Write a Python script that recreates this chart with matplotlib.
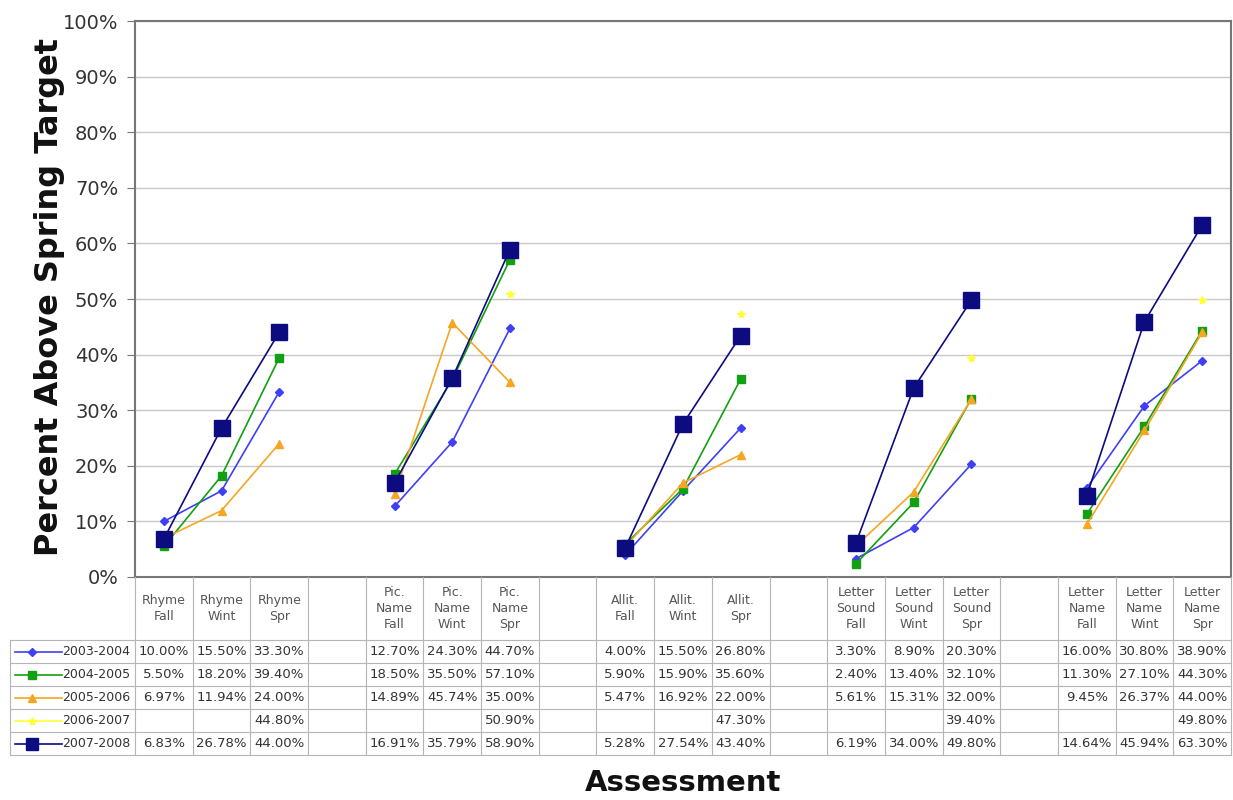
import matplotlib
matplotlib.use('Agg')
import matplotlib.pyplot as plt
import numpy as np

nan = np.nan

# categories (blank columns separate the assessment groups)
categories = ['Rhyme\nFall', 'Rhyme\nWint', 'Rhyme\nSpr', '',
              'Pic.\nName\nFall', 'Pic.\nName\nWint', 'Pic.\nName\nSpr', '',
              'Allit.\nFall', 'Allit.\nWint', 'Allit.\nSpr', '',
              'Letter\nSound\nFall', 'Letter\nSound\nWint', 'Letter\nSound\nSpr', '',
              'Letter\nName\nFall', 'Letter\nName\nWint', 'Letter\nName\nSpr']

years = ['2003-2004', '2004-2005', '2005-2006', '2006-2007', '2007-2008']

y2003 = [10.00, 15.50, 33.30, nan, 12.70, 24.30, 44.70, nan, 4.00, 15.50, 26.80, nan,
         3.30, 8.90, 20.30, nan, 16.00, 30.80, 38.90]
y2004 = [5.50, 18.20, 39.40, nan, 18.50, 35.50, 57.10, nan, 5.90, 15.90, 35.60, nan,
         2.40, 13.40, 32.10, nan, 11.30, 27.10, 44.30]
y2005 = [6.97, 11.94, 24.00, nan, 14.89, 45.74, 35.00, nan, 5.47, 16.92, 22.00, nan,
         5.61, 15.31, 32.00, nan, 9.45, 26.37, 44.00]
y2006 = [nan, nan, 44.80, nan, nan, nan, 50.90, nan, nan, nan, 47.30, nan,
         nan, nan, 39.40, nan, nan, nan, 49.80]
y2007 = [6.83, 26.78, 44.00, nan, 16.91, 35.79, 58.90, nan, 5.28, 27.54, 43.40, nan,
         6.19, 34.00, 49.80, nan, 14.64, 45.94, 63.30]

series = [y2003, y2004, y2005, y2006, y2007]

# styles per series
colors = ['#3f3ff5', '#12a012', '#f5a623', '#ffff33', '#0c0c80']
markers = ['D', 's', '^', '*', 's']
msizes = [4.5, 6, 6, 6, 11]

fig = plt.figure(figsize=(12.33, 8), dpi=100)

# main plot area
ax = fig.add_axes([135 / 1233, 223 / 800, 1096 / 1233, 556 / 800])
x = np.arange(len(categories))
for vals, c, m, ms in zip(series, colors, markers, msizes):
    ax.plot(x, vals, color=c, marker=m, markersize=ms, linewidth=1.2,
            markeredgecolor=c, zorder=3)

ax.set_xlim(-0.5, len(categories) - 0.5)
ax.set_ylim(0, 100)
ax.set_yticks(np.arange(0, 101, 10))
ax.set_yticklabels([f'{v}%' for v in range(0, 101, 10)], fontsize=14, color='#333333')
ax.set_xticks([])
ax.yaxis.grid(True, color='#c8c8c8', linewidth=1)
ax.set_axisbelow(True)
ax.tick_params(axis='y', length=6, color='#777777', pad=6)
for s in ax.spines.values():
    s.set_color('#777777')
    s.set_linewidth(1.5)

# data table below the plot
tax = fig.add_axes([135 / 1233, 45 / 800, 1096 / 1233, 178 / 800], sharex=ax)
tax.set_ylim(7.74, 0)
tax.axis('off')
hdr = 2.74
grid_c = '#b5b5b5'
left = -0.5 - 125 / 57.7

# horizontal lines
for r in range(6):
    yy = hdr + r
    tax.plot([left, 18.5], [yy, yy], color=grid_c, lw=0.8, clip_on=False)
# vertical lines
for i in range(len(categories) + 1):
    xx = i - 0.5
    tax.plot([xx, xx], [0, hdr + 5], color=grid_c, lw=0.8, clip_on=False)
tax.plot([left, left], [hdr, hdr + 5], color=grid_c, lw=0.8, clip_on=False)

# header text
for i, cat in enumerate(categories):
    tax.text(i, hdr / 2, cat, ha='center', va='center', fontsize=9,
             color='#555555', linespacing=1.3)

# data rows + legend keys
for r, (yr, vals, c, m, ms) in enumerate(zip(years, series, colors, markers, msizes)):
    yc = hdr + r + 0.5
    tax.plot([left + 0.09, left + 0.9], [yc, yc], color=c, lw=1.2, clip_on=False)
    tax.plot([left + 0.38], [yc], color=c, marker=m, markersize=min(ms, 8.5),
             clip_on=False)
    tax.text(left + 0.9, yc, yr, ha='left', va='center', fontsize=9, color='#333333')
    for i, v in enumerate(vals):
        if not np.isnan(v):
            tax.text(i, yc, f'{v:.2f}%', ha='center', va='center', fontsize=9.5,
                     color='#333333')

# axis titles
fig.text(50 / 1233, 1 - 297 / 800, 'Percent Above Spring Target', rotation=90,
         ha='center', va='center', fontsize=23, fontweight='bold', color='#111111')
fig.text(683 / 1233, 1 - 783 / 800, 'Assessment', ha='center', va='center',
         fontsize=21, fontweight='bold', color='#111111')

fig.savefig('out.png', dpi=100)
